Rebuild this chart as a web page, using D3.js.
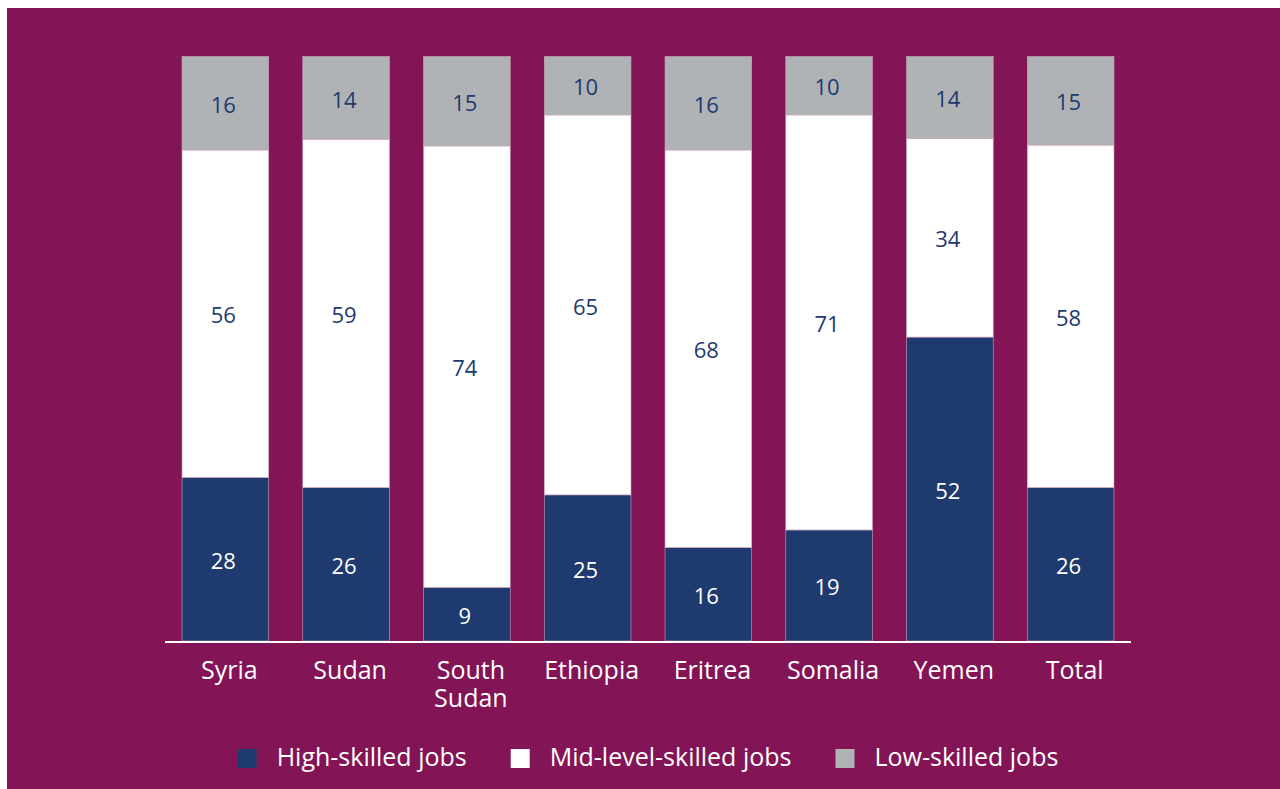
<!DOCTYPE html>
<html>
<head>
<meta charset="utf-8">
<script src="https://cdn.jsdelivr.net/npm/d3@7"></script>
<style>
  html, body { margin: 0; padding: 0; background: #ffffff; }
  svg { display: block; }
  text { font-family: "Open Sans", "Noto Sans", sans-serif; }
</style>
</head>
<body>
<svg id="chart" width="1280" height="789"></svg>
<script>
// Share of jobs by skill level, per country of origin (%)
const categories = ["Syria", "Sudan", "South Sudan", "Ethiopia", "Eritrea", "Somalia", "Yemen", "Total"];
const highSkilled = [28, 26, 9, 25, 16, 19, 52, 26];
const midSkilled  = [56, 59, 74, 65, 68, 71, 34, 58];
const lowSkilled  = [16, 14, 15, 10, 16, 10, 14, 15];
const seriesNames = ["High-skilled jobs", "Mid-level-skilled jobs", "Low-skilled jobs"];

const colors = {
  bg: "#831455",
  high: "#1e3a6e",
  mid: "#ffffff",
  low: "#b0b3b6",
  navyText: "#1e3a6e"
};

const keys = ["high", "mid", "low"];
const rows = categories.map((c, i) => ({
  category: c,
  high: highSkilled[i],
  mid: midSkilled[i],
  low: lowSkilled[i]
}));

const svg = d3.select("#chart");
const W = 1280, H = 789;

// background panel
svg.append("rect")
  .attr("x", 7).attr("y", 8)
  .attr("width", W - 7).attr("height", H - 8)
  .attr("fill", colors.bg);

const x = d3.scaleBand()
  .domain(categories)
  .range([165, 1131])
  .paddingInner(0.282)
  .paddingOuter(0.141);

const y = d3.scaleLinear().domain([0, 1]).range([641, 56.5]);

// each bar is shown as a 100% stack
const stack = d3.stack().keys(keys).offset(d3.stackOffsetExpand);
const layers = stack(rows);

const fill = { high: colors.high, mid: colors.mid, low: colors.low };
const labelColor = { high: "#ffffff", mid: colors.navyText, low: colors.navyText };

const g = svg.append("g");

layers.forEach(layer => {
  const k = layer.key;
  const grp = g.append("g").attr("class", "layer-" + k);
  grp.selectAll("rect")
    .data(layer)
    .join("rect")
    .attr("x", d => x(d.data.category))
    .attr("width", x.bandwidth())
    .attr("y", d => y(d[1]))
    .attr("height", d => y(d[0]) - y(d[1]))
    .attr("fill", fill[k])
    .attr("stroke", "#caa6bd")
    .attr("stroke-width", 0.6);

  grp.selectAll("text")
    .data(layer)
    .join("text")
    .attr("x", d => x(d.data.category) + x.bandwidth() / 2 - 2)
    .attr("y", d => (y(d[0]) + y(d[1])) / 2 + 2)
    .attr("dy", "0.35em")
    .attr("text-anchor", "middle")
    .attr("font-size", 22)
    .attr("fill", labelColor[k])
    .text(d => d.data[k]);
});

// baseline
svg.append("line")
  .attr("x1", 165).attr("x2", 1131)
  .attr("y1", 642).attr("y2", 642)
  .attr("stroke", "#ffffff")
  .attr("stroke-width", 2);

// category labels (wrapped on spaces)
const xAxis = svg.append("g");
categories.forEach(c => {
  const words = c.split(" ");
  const cx = x(c) + x.bandwidth() / 2 + 4;
  const t = xAxis.append("text")
    .attr("x", cx)
    .attr("y", 679)
    .attr("text-anchor", "middle")
    .attr("font-size", 25)
    .attr("fill", "#ffffff");
  words.forEach((w, i) => {
    t.append("tspan")
      .attr("x", cx)
      .attr("dy", i === 0 ? 0 : 28)
      .text(w);
  });
});

// legend
const legend = svg.append("g");
const sw = 19, gapText = 20, gapItem = 44;
let cursor = 0;
seriesNames.forEach((name, i) => {
  const item = legend.append("g");
  item.append("rect")
    .attr("x", cursor).attr("y", 749)
    .attr("width", sw).attr("height", sw)
    .attr("fill", fill[keys[i]]);
  const t = item.append("text")
    .attr("x", cursor + sw + gapText)
    .attr("y", 766)
    .attr("font-size", 25)
    .attr("fill", "#ffffff")
    .text(name);
  cursor += sw + gapText + t.node().getComputedTextLength() + gapItem;
});
const legendWidth = cursor - gapItem;
legend.attr("transform", `translate(${648 - legendWidth / 2},0)`);
</script>
</body>
</html>
